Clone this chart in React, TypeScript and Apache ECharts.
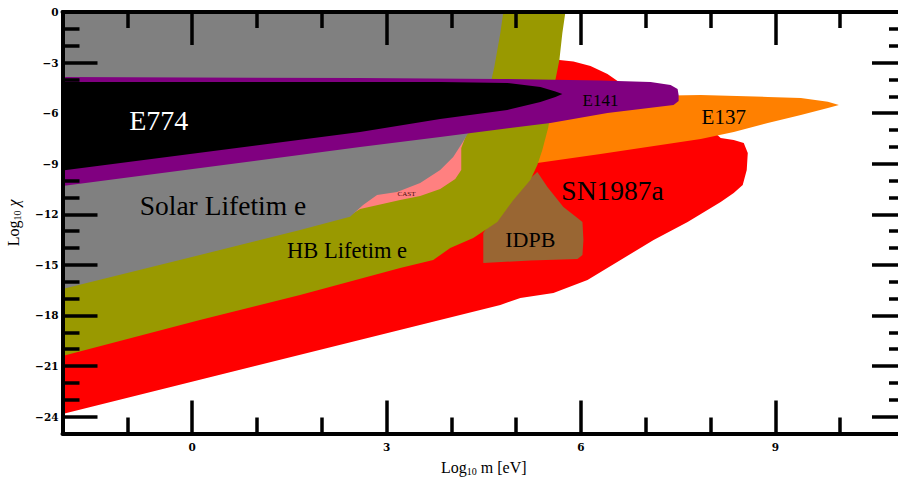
import React, { useEffect, useRef } from "react";
import * as echarts from "echarts";

// Axis ticks
const xMajorTicks = [0, 3, 6, 9];
const xMinorTicks = [-1, 1, 2, 4, 5, 7, 8, 10];
const yMajorTicks = [-24, -21, -18, -15, -12, -9, -6, -3, 0];
const yMinorTicks = [-23, -22, -20, -19, -17, -16, -14, -13, -11, -10, -8, -7, -5, -4, -2, -1];

// Region boundaries in data units [log10 m, log10 chi]
const sn1987a: [number, number][] = [
  [-2, -23.84], [4.756, -17.38], [5.065, -16.96], [5.575, -16.67], [6.101, -15.9], [6.611, -14.71],
  [7.121, -13.52], [7.646, -12.46], [8.156, -11.27], [8.357, -10.74], [8.496, -10.26], [8.558, -9.37],
  [8.574, -8.36], [8.512, -7.77], [8.357, -7.59], [8.156, -7.47], [7.847, -6.41], [6.92, -4.92],
  [6.564, -4.09], [6.409, -3.68], [6.147, -3.2], [5.884, -2.94], [5.667, -2.85], [5.451, -2.25],
  [4.756, -9.96], [4.493, -12.63], [-2, -20.05],
];
const e137: [number, number][] = [
  [5.296, -6.7], [5.683, -5.81], [6.92, -4.98], [7.847, -4.92], [8.883, -5.04], [9.393, -5.1],
  [9.81, -5.32], [9.98, -5.52], [9.81, -5.69], [9.393, -6.11], [8.883, -6.58], [8.358, -7.12],
  [7.847, -7.53], [6.301, -8.42], [5.327, -8.96], [5.219, -8.19],
];
const idpb: [number, number][] = [
  [5.327, -9.49], [5.482, -10.38], [5.729, -11.57], [5.946, -12.22], [6.023, -12.46], [6.038, -13.52],
  [6.023, -14.41], [5.946, -14.65], [5.219, -14.74], [4.493, -14.89], [4.493, -13.11], [4.833, -11.15],
];
const hbLifetime: [number, number][] = [
  [-2, -20.4], [0.12, -18.27], [1.665, -16.78], [3.21, -15.18], [3.72, -14.71], [3.983, -14.0],
  [4.338, -13.4], [4.709, -12.46], [4.957, -11.15], [5.219, -9.96], [5.327, -9.07], [5.404, -8.19],
  [5.497, -6.82], [5.575, -4.63], [5.667, -2.85], [5.713, -1.25], [5.76, 0], [4.447, 0], [-2, -16.19],
];
const cast: [number, number][] = [
  [2.468, -11.98], [2.592, -11.68], [3.21, -11.15], [3.519, -10.91], [3.828, -10.5], [4.06, -9.9],
  [4.153, -9.37], [4.153, -8.07], [4.23, -7.29], [3.828, -8.78], [3.21, -10.26], [2.592, -11.15],
];
const solarLifetime: [number, number][] = [
  [-2, 0], [4.802, 0], [4.756, -1.25], [4.663, -3.26], [4.601, -4.33], [4.447, -5.81], [4.261, -7.18],
  [4.168, -7.77], [4.029, -8.6], [3.828, -9.37], [3.519, -10.14], [3.163, -10.67], [2.854, -10.85],
  [2.638, -11.45], [2.437, -12.15], [1.665, -12.93], [0.12, -14.41], [-2, -16.43],
];
const e141: [number, number][] = [
  [-2, -3.86], [2.592, -3.92], [4.756, -3.97], [6.301, -4.06], [7.074, -4.15], [7.383, -4.33],
  [7.491, -4.57], [7.507, -4.92], [7.507, -5.28], [7.429, -5.52], [6.409, -5.99], [5.529, -6.58],
  [3.828, -7.41], [2.592, -8.01], [-2, -10.32],
];
const e774: [number, number][] = [
  [-2, -4.15], [3.828, -4.15], [4.864, -4.21], [5.374, -4.45], [5.606, -4.71], [5.713, -4.86],
  [5.606, -5.04], [5.374, -5.34], [4.864, -5.81], [3.828, -6.35], [2.592, -7.12], [-2, -9.4],
];

// Region labels
const labelNames = ["E774", "E141", "E137", "SN1987a", "IDPB", "Solar Lifetim e", "HB Lifetim e", "CAST"];
const labelAt: [number, number][] = [
  [-0.515, -6.41], [6.301, -5.22], [8.203, -6.23], [6.487, -10.56], [5.219, -13.52],
  [0.476, -11.45], [2.391, -14.17], [3.309, -10.79],
];

const SERIF = '"Liberation Serif", "Times New Roman", serif';
const TICKFONT = '"DejaVu Serif", "Liberation Serif", serif';

const labelStyle = [
  { c: "#ffffff", s: 28 },
  { c: "#000000", s: 17 },
  { c: "#000000", s: 21 },
  { c: "#000000", s: 27.5 },
  { c: "#000000", s: 22 },
  { c: "#000000", s: 27.5 },
  { c: "#000000", s: 22.5 },
  { c: "#4a0a0a", s: 7 },
];

const regions: { pts: [number, number][]; color: string }[] = [
  { pts: sn1987a, color: "#ff0000" },
  { pts: e137, color: "#ff8000" },
  { pts: idpb, color: "#996633" },
  { pts: hbLifetime, color: "#999900" },
  { pts: cast, color: "#ff8080" },
  { pts: solarLifetime, color: "#808080" },
  { pts: e141, color: "#800080" },
  { pts: e774, color: "#000000" },
];

const fmt = (v: number) => (v < 0 ? "\u2212" + Math.abs(v) : String(v));

function xAxis(pos: "top" | "bottom", ticks: number[], len: number, line: boolean, labels: boolean, name?: string) {
  return {
    type: "value",
    position: pos,
    min: -2,
    max: 11,
    z: 20,
    splitLine: { show: false },
    axisLine: { show: line, onZero: false, lineStyle: { color: "#000", width: 4 } },
    axisTick: { show: true, inside: true, length: len, customValues: ticks, lineStyle: { color: "#000", width: 3.5 } },
    axisLabel: labels
      ? { show: true, customValues: ticks, formatter: fmt, margin: 8, color: "#000", fontFamily: TICKFONT, fontWeight: "bold", fontSize: 10.5 }
      : { show: false },
    name: name || "",
    nameLocation: "middle",
    nameGap: 24,
    nameTextStyle: {
      color: "#000",
      fontFamily: SERIF,
      fontSize: 16,
      rich: {
        n: { fontFamily: SERIF, fontSize: 16, color: "#000" },
        s: { fontFamily: SERIF, fontSize: 10, color: "#000", padding: [9, 0, 0, 0] },
      },
    },
  };
}

function yAxis(pos: "left" | "right", ticks: number[], len: number, line: boolean, labels: boolean, name?: string) {
  return {
    type: "value",
    position: pos,
    min: -25,
    max: 0,
    z: 20,
    splitLine: { show: false },
    axisLine: { show: line, onZero: false, lineStyle: { color: "#000", width: 4 } },
    axisTick: { show: true, inside: true, length: len, customValues: ticks, lineStyle: { color: "#000", width: 3.5 } },
    axisLabel: labels
      ? { show: true, customValues: ticks, formatter: fmt, margin: 4, color: "#000", fontFamily: TICKFONT, fontWeight: "bold", fontSize: 10.5 }
      : { show: false },
    name: name || "",
    nameLocation: "middle",
    nameGap: 40,
    nameRotate: 90,
    nameTextStyle: {
      color: "#000",
      fontFamily: SERIF,
      fontSize: 16,
      rich: {
        n: { fontFamily: SERIF, fontSize: 16, color: "#000" },
        s: { fontFamily: SERIF, fontSize: 10, color: "#000", padding: [9, 0, 0, 0] },
        c: { fontFamily: SERIF, fontSize: 16, fontStyle: "italic", color: "#000" },
      },
    },
  };
}

export default function App() {
  const ref = useRef<HTMLDivElement>(null);
  useEffect(() => {
    document.body.style.margin = "0";
    const chart = echarts.init(ref.current!, null, { renderer: "svg" });
    const polySeries = regions.map((r) => ({
      type: "custom",
      coordinateSystem: "cartesian2d",
      xAxisIndex: 0,
      yAxisIndex: 0,
      silent: true,
      z: 1,
      data: r.pts,
      renderItem: (params: any, api: any) => {
        if (params.dataIndex !== 0) return null;
        return {
          type: "polygon",
          shape: { points: r.pts.map((p) => api.coord(p)) },
          style: { fill: r.color, stroke: null },
        };
      },
    }));
    const labelSeries = {
      type: "custom",
      coordinateSystem: "cartesian2d",
      xAxisIndex: 0,
      yAxisIndex: 0,
      silent: true,
      z: 2,
      data: labelAt,
      renderItem: (params: any, api: any) => {
        const i = params.dataIndex;
        const c = api.coord([api.value(0), api.value(1)]);
        return {
          type: "text",
          x: c[0],
          y: c[1],
          style: {
            text: labelNames[i],
            fill: labelStyle[i].c,
            fontSize: labelStyle[i].s,
            fontFamily: SERIF,
            align: "center",
            verticalAlign: "middle",
          },
        };
      },
    };
    chart.setOption({
      animation: false,
      backgroundColor: "#ffffff",
      grid: { left: 62.5, top: 12, width: 842.5, height: 421.5, outerBoundsMode: "none", containLabel: false },
      xAxis: [
        xAxis("bottom", xMajorTicks, 33, true, true, "{n|Log}{s|10}{n| m [eV]}"),
        xAxis("bottom", xMinorTicks, 16, false, false),
        xAxis("top", xMajorTicks, 33, true, false),
        xAxis("top", xMinorTicks, 16, false, false),
      ],
      yAxis: [
        yAxis("left", yMajorTicks, 35, true, true, "{n|Log}{s|10}{c| \u03c7}"),
        yAxis("left", yMinorTicks, 17, false, false),
        yAxis("right", yMajorTicks, 33, true, false),
        yAxis("right", yMinorTicks, 16, false, false),
      ],
      series: [...polySeries, labelSeries],
    });
    return () => chart.dispose();
  }, []);
  return <div ref={ref} style={{ position: "absolute", left: 0, top: 0, width: 898, height: 482 }} />;
}
